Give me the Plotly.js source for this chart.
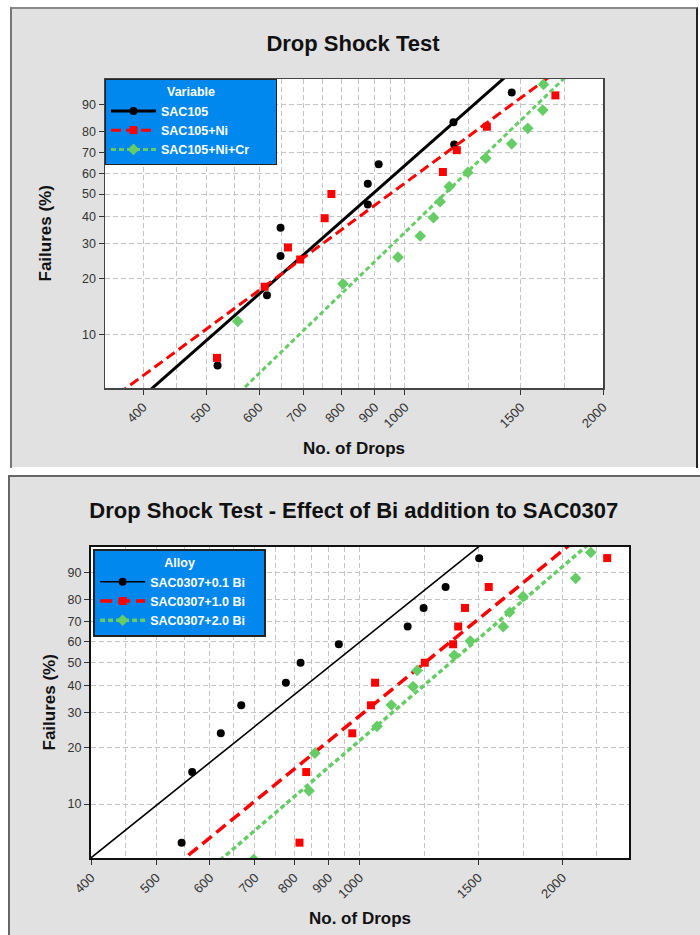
<!DOCTYPE html>
<html><head><meta charset="utf-8">
<script src="https://cdn.plot.ly/plotly-3.0.1.min.js"></script>
<style>
body{margin:0;background:#fff;width:700px;height:935px;position:relative;overflow:hidden;font-family:"Liberation Sans",Arial,sans-serif}
#p1{position:absolute;left:11px;top:8px;width:686px;height:459px}
#p2{position:absolute;left:9px;top:476px;width:691px;height:459px}
.frame{position:absolute;pointer-events:none;box-sizing:border-box}
</style></head><body>
<div id="p1"></div><div id="p2"></div>
<div class="frame" style="left:10px;top:7px;width:688px;height:461px;border-left:2px solid #777;border-top:2px solid #888;border-right:2px solid #222"></div>
<div class="frame" style="left:8px;top:475px;width:692px;height:460px;border-left:2px solid #666;border-top:2px solid #666"></div>
<script>
// ---------- Data: top chart (Drop Shock Test) ----------
var topTitle = "Drop Shock Test";
var topLegendTitle = "Variable";
var topNames = ["SAC105", "SAC105+Ni", "SAC105+Ni+Cr"];
var sac105Drops = [519, 617, 647, 647, 878, 878, 912, 1188, 1185, 1453];
var sac105Fail  = [6.7, 16.3, 26.0, 35.6, 45.2, 54.8, 64.4, 74.0, 83.7, 93.3];
var sac105NiDrops = [518, 612, 664, 693, 755, 773, 1142, 1199, 1332, 1693];
var sac105NiFail  = [7.4, 18.1, 28.7, 25.0, 39.4, 50.0, 60.6, 71.3, 81.9, 92.6];
var sac105NiCrDrops = [557, 805, 976, 1055, 1105, 1131, 1168, 1246, 1327, 1453, 1537, 1620, 1624];
var sac105NiCrFail  = [11.8, 18.75, 25.7, 32.6, 39.6, 46.5, 53.5, 60.4, 67.4, 74.3, 81.25, 88.2, 95.1];
var topFitEta  = [995, 1081, 1268];
var topFitBeta = [3.38, 2.82, 3.71];
var topXTicks = [400, 500, 600, 700, 800, 900, 1000, 1500, 2000];
var topXMinor = [450, 550, 650, 750, 850, 950, 1250, 1750];

// ---------- Data: bottom chart (Effect of Bi) ----------
var botTitle = "Drop Shock Test - Effect of Bi addition to SAC0307";
var botLegendTitle = "Alloy";
var botNames = ["SAC0307+0.1 Bi", "SAC0307+1.0 Bi", "SAC0307+2.0 Bi"];
var bi01Drops = [545, 565, 623, 668, 778, 818, 932, 1179, 1245, 1342, 1505];
var bi01Fail  = [6.1, 14.9, 23.7, 32.5, 41.2, 50.0, 58.8, 67.5, 76.3, 85.1, 93.9];
var bi10Drops = [815, 834, 976, 1040, 1055, 1250, 1377, 1401, 1434, 1555, 2330];
var bi10Fail  = [6.1, 14.9, 23.7, 32.5, 41.2, 50.0, 58.8, 67.5, 76.3, 85.1, 93.9];
var bi20Drops = [697, 842, 859, 1062, 1115, 1201, 1218, 1382, 1460, 1634, 1670, 1748, 2092, 2203];
var bi20Fail  = [4.9, 11.8, 18.75, 25.7, 32.6, 39.6, 46.5, 53.5, 60.4, 67.4, 74.3, 81.25, 88.2, 95.1];
var botFitEta  = [1031, 1403, 1522];
var botFitBeta = [3.135, 3.18, 3.35];
var botXTicks = [400, 500, 600, 700, 800, 900, 1000, 1500, 2000];
var botXMinor = [450, 550, 650, 750, 850, 950, 1250, 1750, 2250];

var yTickPct = [10, 20, 30, 40, 50, 60, 70, 80, 90];
var xTitle = "No. of Drops";
var yTitle = "Failures (%)";

// ---------- helpers ----------
var FONT = '"Liberation Sans", Arial, sans-serif';
function W(p){ return Math.log(-Math.log(1 - p/100)); }
function pad(s, n){ return s + '\u00a0'.repeat(n); }
function series(name, xs, ys, eta, beta, color, symbol, msize, lw, dash){
  var x = [], y = [];
  for (var i = 0; i < xs.length; i++){ x.push(xs[i]); y.push(W(ys[i])); x.push(null); y.push(null); }
  [1, 99.9].forEach(function(p){ x.push(eta*Math.pow(-Math.log(1-p/100), 1/beta)); y.push(W(p)); });
  return {type:'scatter', mode:'lines+markers', name:name, x:x, y:y, hoverinfo:'skip',
    line:{color:color, width:lw, dash:dash}, marker:{color:color, symbol:symbol, size:msize, line:{width:0}}};
}
var GREEN = '#66cc66', RED = '#ff0000', BLACK = '#000000', BLUE = '#0088ee';
var GRID = '#c4c4c4';

function axisX(ticks, minor, range, lc, lw){
  return {type:'log', range:[Math.log10(range[0]), Math.log10(range[1])], tickmode:'array', tickvals:ticks,
    ticktext:ticks.map(String), tickangle:-45, tickfont:{family:FONT, size:13, color:'#333'},
    ticks:'outside', ticklen:5, tickcolor:'#333', showline:true, mirror:true, linecolor:lc, linewidth:lw,
    showgrid:true, gridcolor:GRID, griddash:'5px,3px', gridwidth:1, zeroline:false,
    minor:{tickmode:'array', tickvals:minor, showgrid:true, gridcolor:GRID, griddash:'5px,3px', gridwidth:1, ticks:''}};
}
function axisY(lc, lw){
  return {range:[W(5), W(96.1)], tickmode:'array', tickvals:yTickPct.map(W), ticktext:yTickPct.map(String),
    tickfont:{family:FONT, size:12.5, color:'#333'}, ticks:'outside', ticklen:5, tickcolor:'#333',
    showline:true, mirror:true, linecolor:lc, linewidth:lw, showgrid:true, gridcolor:GRID,
    griddash:'5px,3px', gridwidth:1, zeroline:false};
}
function axisTitles(yShiftX){
  return [
    {text:'<b>'+yTitle+'</b>', xref:'paper', yref:'paper', x:0, y:0.5, xanchor:'center', yanchor:'middle',
     xshift:yShiftX, textangle:-90, showarrow:false, font:{family:FONT, size:17, color:'#111'}},
    {text:'<b>'+xTitle+'</b>', xref:'paper', yref:'paper', x:0.5, y:0, xanchor:'center', yanchor:'middle',
     yshift:-60, showarrow:false, font:{family:FONT, size:17, color:'#111'}}
  ];
}
function legendCfg(title, x, y, bw){
  return {x:x, y:y, xanchor:'left', yanchor:'top', bgcolor:BLUE, bordercolor:'#222', borderwidth:bw,
    font:{family:FONT, size:12.5, color:'#ffffff', weight:'bold'}, itemwidth:45,
    title:{text:title, side:'top center', font:{family:FONT, size:12.5, color:'#ffffff', weight:'bold'}},
    tracegroupgap:0};
}

// ---------- top chart ----------
var topTraces = [
  series(topNames[0], sac105Drops, sac105Fail, topFitEta[0], topFitBeta[0], BLACK, 'circle', 8, 3, 'solid'),
  series(topNames[1], sac105NiDrops, sac105NiFail, topFitEta[1], topFitBeta[1], RED, 'square', 8, 3, '10px,5px'),
  series(pad(topNames[2], 6), sac105NiCrDrops, sac105NiCrFail, topFitEta[2], topFitBeta[2], GREEN, 'diamond', 9, 3, '5px,3px')
];
Plotly.newPlot('p1', topTraces, {
  width:686, height:459, margin:{l:94, r:94, t:71, b:79},
  paper_bgcolor:'#e1e1e1', plot_bgcolor:'#ffffff',
  title:{text:'<b>'+topTitle+'</b>', x:0.4985, xref:'container', xanchor:'center', y:1-35/459, yref:'container', yanchor:'middle',
    font:{family:FONT, size:22, color:'#111'}},
  xaxis:axisX(topXTicks, topXMinor, [350, 2000], '#444', 1.5),
  yaxis:axisY('#444', 1.5),
  legend:legendCfg(topLegendTitle, 0, 1, 1),
  annotations:axisTitles(-60),
  showlegend:true
}, {staticPlot:true});

// ---------- bottom chart ----------
var botTraces = [
  series(pad(botNames[0], 4), bi01Drops, bi01Fail, botFitEta[0], botFitBeta[0], BLACK, 'circle', 8, 1.6, 'solid'),
  series(botNames[1], bi10Drops, bi10Fail, botFitEta[1], botFitBeta[1], RED, 'square', 8, 3.5, '12px,6px'),
  series(botNames[2], bi20Drops, bi20Fail, botFitEta[2], botFitBeta[2], GREEN, 'diamond', 9, 3.5, '5px,3px')
];
Plotly.newPlot('p2', botTraces, {
  width:691, height:459, margin:{l:82, r:71, t:71, b:77},
  paper_bgcolor:'#e1e1e1', plot_bgcolor:'#ffffff',
  title:{text:'<b>'+botTitle+'</b>', x:0.499, xref:'container', xanchor:'center', y:1-34/459, yref:'container', yanchor:'middle',
    font:{family:FONT, size:22, color:'#111'}},
  xaxis:axisX(botXTicks, botXMinor, [400, 2510], '#111', 2),
  yaxis:axisY('#111', 2),
  legend:legendCfg(botLegendTitle, 0.004, 0.994, 2),
  annotations:axisTitles(-42),
  showlegend:true
}, {staticPlot:true});
</script></body></html>
